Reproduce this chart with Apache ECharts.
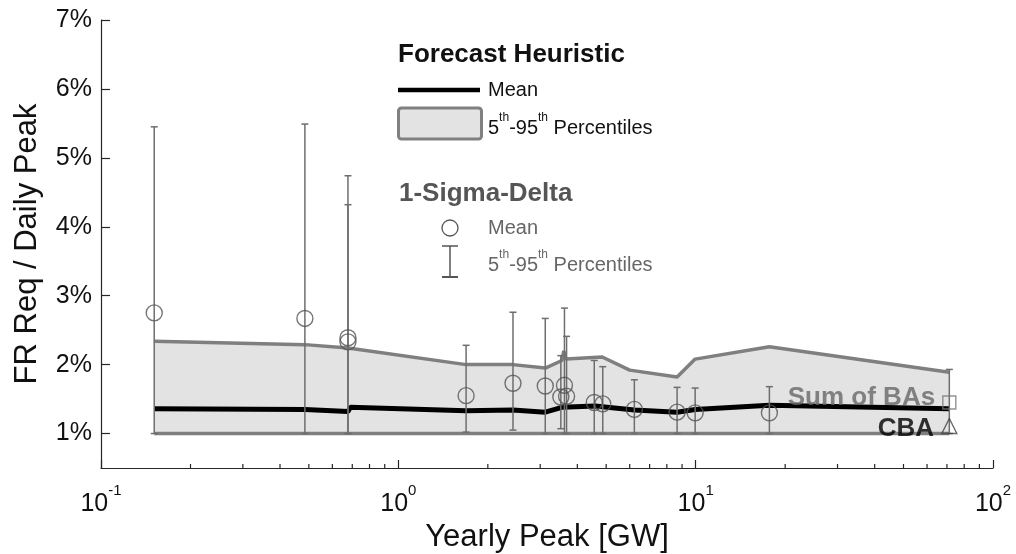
<!DOCTYPE html>
<html><head><meta charset="utf-8">
<script src="https://cdn.jsdelivr.net/npm/echarts@6/dist/echarts.min.js"></script>
<style>html,body{margin:0;padding:0;background:#fff}#c{width:1016px;height:554px}</style>
</head><body><div id="c"></div>
<script>
const FONT = '"Liberation Sans", Arial, Helvetica, sans-serif';

// Forecast heuristic: mean curve
const meanX = [0.151, 0.485, 0.677, 0.69, 1.69, 2.43, 3.12, 3.55, 4.6, 4.85, 6.22, 8.66, 9.96, 17.7, 71.3];
const meanY = [1.36, 1.35, 1.32, 1.38, 1.33, 1.34, 1.31, 1.38, 1.40, 1.39, 1.34, 1.31, 1.35, 1.41, 1.36];
// Forecast heuristic: 95th percentile
const upperX = [0.151, 0.485, 0.677, 1.69, 2.43, 3.12, 3.55, 3.60, 3.66, 4.85, 6.0, 8.66, 9.96, 17.7, 71.3];
const upperY = [2.34, 2.29, 2.24, 2.00, 2.00, 1.95, 2.06, 2.20, 2.08, 2.11, 1.92, 1.82, 2.08, 2.26, 1.89];
// Forecast heuristic: 5th percentile
const lowerX = [0.151, 71.3];
const lowerY = [1.00, 1.00];

// 1-Sigma-Delta per BA
const baX    = [0.151, 0.485, 0.677, 0.677, 1.69, 2.43, 3.12, 3.52, 3.62, 3.68, 4.56, 4.87, 6.22, 8.66, 9.96, 17.7];
const baMean = [2.75, 2.67, 2.39, 2.33, 1.55, 1.73, 1.69, 1.53, 1.70, 1.54, 1.45, 1.43, 1.35, 1.31, 1.30, 1.30];
const baP5   = [1.00, 1.00, 1.00, 1.00, 1.02, 1.05, 1.00, 1.07, 1.00, 1.00, 1.00, 1.00, 1.00, 1.00, 1.00, 1.00];
const baP95  = [5.45, 5.49, 4.74, 4.32, 2.28, 2.76, 2.67, 2.13, 2.82, 2.41, 2.06, 1.97, 1.78, 1.67, 1.66, 1.68];

// Sum of BAs and CBA
const sumX = [71.3], sumMean = [1.45], sumP5 = [1.00], sumP95 = [1.93];
const cbaX = [71.3], cbaMean = [1.11];

// Axis ticks
const yTicks = [1, 2, 3, 4, 5, 6, 7];
const xMinorTicks = [];
[0.1, 1, 10].forEach(d => { for (let m = 2; m <= 9; m++) xMinorTicks.push(+(d * m).toPrecision(3)); });

const AX = '#262626';
const TXT = '#111';
const zip = (xs, ys) => xs.map((x, i) => [x, ys[i]]);

const chart = echarts.init(document.getElementById('c'), null, {renderer: 'canvas'});

const errBarItem = (params, api) => {
  const x = api.value(0), lo = api.value(1), hi = api.value(2);
  const a = api.coord([x, lo]), b = api.coord([x, hi]);
  const hw = 3.5;
  const st = {stroke: '#6e6e6e', lineWidth: 1.5};
  return {type: 'group', children: [
    {type: 'line', shape: {x1: a[0], y1: a[1], x2: b[0], y2: b[1]}, style: st},
    {type: 'line', shape: {x1: a[0] - hw, y1: a[1], x2: a[0] + hw, y2: a[1]}, style: st},
    {type: 'line', shape: {x1: b[0] - hw, y1: b[1], x2: b[0] + hw, y2: b[1]}, style: st}
  ]};
};

const supRich = (color) => ({
  n: {fontSize: 20, lineHeight: 26, verticalAlign: 'bottom', fill: color, color: color, fontFamily: FONT},
  s: {fontSize: 12, lineHeight: 12, verticalAlign: 'top', fill: color, color: color, fontFamily: FONT}
});

const option = {
  animation: false,
  backgroundColor: '#fff',
  textStyle: {fontFamily: FONT},
  grid: {left: 101, right: 23, top: 20, bottom: 86, containLabel: false, outerBoundsMode: 'none'},
  xAxis: {
    type: 'log', logBase: 10, min: 0.1, max: 100,
    axisLine: {show: true, onZero: false, lineStyle: {color: AX, width: 1.2}},
    axisTick: {show: true, inside: true, length: 8, lineStyle: {color: AX, width: 1.2}},
    minorTick: {show: false},
    splitLine: {show: false},
    axisLabel: {
      margin: 15, showMinLabel: true, showMaxLabel: true,
      formatter: v => '{b|10}{s|' + Math.round(Math.log10(v)) + '}',
      rich: {
        b: {fontSize: 25, lineHeight: 34, verticalAlign: 'bottom', color: TXT, fontFamily: FONT},
        s: {fontSize: 15, lineHeight: 15, verticalAlign: 'top', color: TXT, fontFamily: FONT}
      }
    },
    name: 'Yearly Peak [GW]', nameLocation: 'middle', nameGap: 53,
    nameTextStyle: {fontSize: 31, color: TXT, fontFamily: FONT}
  },
  yAxis: {
    type: 'value', min: 0.5, max: 7,
    axisLine: {show: true, onZero: false, lineStyle: {color: AX, width: 1.2}},
    axisTick: {show: true, inside: true, length: 9, customValues: yTicks, lineStyle: {color: AX, width: 1.2}},
    axisLabel: {customValues: yTicks, formatter: '{value}%', fontSize: 25, color: TXT, margin: 9, fontFamily: FONT},
    splitLine: {show: false},
    name: 'FR Req / Daily Peak', nameLocation: 'middle', nameGap: 58,
    nameTextStyle: {fontSize: 31, color: TXT, fontFamily: FONT}
  },
  series: [
    { // band fill
      type: 'custom', z: 1, silent: true, data: [[upperX[0], lowerY[0]]], encode: {x: 0, y: 1},
      renderItem: (params, api) => {
        const pts = upperX.map((x, i) => api.coord([x, upperY[i]]));
        for (let i = lowerX.length - 1; i >= 0; i--) pts.push(api.coord([lowerX[i], lowerY[i]]));
        return {type: 'polygon', shape: {points: pts}, style: {fill: '#e3e3e3'}};
      }
    },
    {type: 'line', z: 2, data: zip(upperX, upperY), showSymbol: false, symbol: 'none',
     lineStyle: {color: '#7f7f7f', width: 3.5}, silent: true},
    {type: 'line', z: 2, data: zip(lowerX, lowerY), showSymbol: false, symbol: 'none',
     lineStyle: {color: '#7f7f7f', width: 3.5}, silent: true},
    {type: 'line', z: 3, data: zip(meanX, meanY), showSymbol: false, symbol: 'none',
     lineStyle: {color: '#000', width: 5}, silent: true},
    { // error bars
      type: 'custom', z: 4, silent: true,
      data: baX.map((x, i) => [x, baP5[i], baP95[i]]).concat(sumX.map((x, i) => [x, sumP5[i], sumP95[i]])),
      encode: {x: 0, y: [1, 2]}, renderItem: errBarItem
    },
    {type: 'scatter', z: 5, data: zip(baX, baMean), symbol: 'circle', symbolSize: 16, silent: true,
     itemStyle: {color: 'rgba(0,0,0,0)', borderColor: '#555', borderWidth: 1.4}},
    {type: 'scatter', z: 5, data: zip(sumX, sumMean), symbol: 'rect', symbolSize: 13, silent: true,
     itemStyle: {color: 'rgba(0,0,0,0)', borderColor: '#777', borderWidth: 1.4},
     label: {show: true, formatter: 'Sum of BAs', position: 'left', distance: 7, offset: [0, -5],
             fontSize: 26, fontWeight: 'bold', color: '#666', fontFamily: FONT}},
    {type: 'scatter', z: 5, data: zip(cbaX, cbaMean), symbol: 'triangle', symbolSize: 15, silent: true,
     itemStyle: {color: 'rgba(0,0,0,0)', borderColor: '#444', borderWidth: 1.4},
     label: {show: true, formatter: 'CBA', position: 'left', distance: 7, offset: [0, 3],
             fontSize: 26, fontWeight: 'bold', color: '#000', fontFamily: FONT}},
    { // minor ticks of log axis
      type: 'custom', z: 6, silent: true, data: xMinorTicks.map(v => [v, 0.5]), encode: {x: 0, y: 1},
      renderItem: (params, api) => {
        const p = api.coord([api.value(0), api.value(1)]);
        return {type: 'line', shape: {x1: p[0], y1: p[1], x2: p[0], y2: p[1] - 4}, style: {stroke: AX, lineWidth: 1.2}};
      }
    }
  ],
  graphic: [
    {type: 'text', x: 398, y: 55, style: {text: 'Forecast Heuristic', font: 'bold 26px ' + FONT, fill: TXT, verticalAlign: 'middle'}},
    {type: 'line', shape: {x1: 398, y1: 90, x2: 480, y2: 90}, style: {stroke: '#000', lineWidth: 4.5}},
    {type: 'text', x: 488, y: 90, style: {text: 'Mean', font: '20px ' + FONT, fill: TXT, verticalAlign: 'middle'}},
    {type: 'rect', shape: {x: 398.5, y: 108, width: 83, height: 31, r: 3}, style: {fill: '#e3e3e3', stroke: '#808080', lineWidth: 3}},
    {type: 'text', x: 488, y: 125, style: {text: '{n|5}{s|th}{n|-95}{s|th}{n| Percentiles}', rich: supRich(TXT), verticalAlign: 'middle'}},
    {type: 'text', x: 399, y: 194, style: {text: '1-Sigma-Delta', font: 'bold 26px ' + FONT, fill: '#555', verticalAlign: 'middle'}},
    {type: 'circle', shape: {cx: 450, cy: 228, r: 8}, style: {fill: 'none', stroke: '#555', lineWidth: 1.3}},
    {type: 'text', x: 488, y: 228, style: {text: 'Mean', font: '20px ' + FONT, fill: '#666', verticalAlign: 'middle'}},
    {type: 'line', shape: {x1: 450, y1: 246, x2: 450, y2: 277}, style: {stroke: '#555', lineWidth: 1.5}},
    {type: 'line', shape: {x1: 442, y1: 246, x2: 458, y2: 246}, style: {stroke: '#555', lineWidth: 1.5}},
    {type: 'line', shape: {x1: 442, y1: 277, x2: 458, y2: 277}, style: {stroke: '#555', lineWidth: 2}},
    {type: 'text', x: 488, y: 262, style: {text: '{n|5}{s|th}{n|-95}{s|th}{n| Percentiles}', rich: supRich('#666'), verticalAlign: 'middle'}}
  ]
};
chart.setOption(option);
</script>
</body></html>
